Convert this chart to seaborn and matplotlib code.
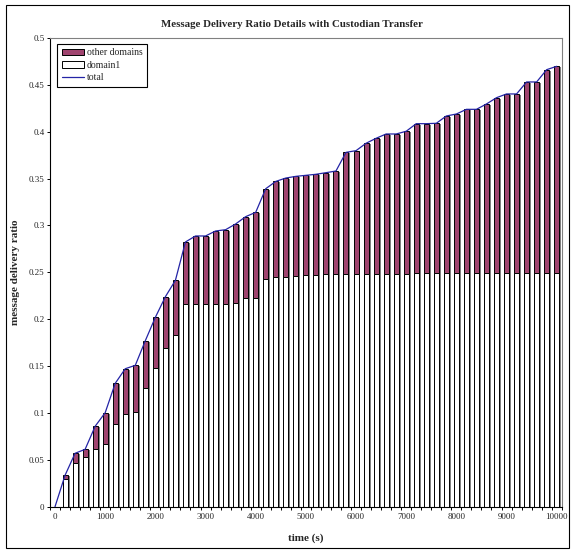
import numpy as np
import pandas as pd
import matplotlib
matplotlib.use("Agg")
import matplotlib.pyplot as plt
import matplotlib.patheffects as pe
from matplotlib.patches import Rectangle, Patch
from matplotlib.lines import Line2D
import seaborn as sns

# ---------------- data ----------------
times = [0, 200, 400, 600, 800, 1000, 1200, 1400, 1600, 1800,
         2000, 2200, 2400, 2600, 2800, 3000, 3200, 3400, 3600, 3800,
         4000, 4200, 4400, 4600, 4800, 5000, 5200, 5400, 5600, 5800,
         6000, 6200, 6400, 6600, 6800, 7000, 7200, 7400, 7600, 7800,
         8000, 8200, 8400, 8600, 8800, 9000, 9200, 9400, 9600, 9800,
         10000]

total = [0.0, 0.0335, 0.057, 0.0612, 0.0858, 0.1003, 0.1316, 0.1472, 0.1508, 0.1771,
         0.202, 0.224, 0.2415, 0.2824, 0.2888, 0.2888, 0.2941, 0.2955, 0.3016, 0.3094,
         0.314, 0.3392, 0.347, 0.3506, 0.3524, 0.3535, 0.3546, 0.3563, 0.3581, 0.378,
         0.3798, 0.3877, 0.393, 0.3976, 0.3976, 0.4005, 0.4086, 0.4086, 0.409, 0.4168,
         0.4189, 0.4239, 0.4239, 0.4296, 0.4363, 0.4403, 0.4403, 0.4531, 0.4531, 0.4662,
         0.4698]

domain1 = [0.0, 0.0292, 0.047, 0.0527, 0.0612, 0.0666, 0.0879, 0.0986, 0.1013, 0.1263,
           0.1483, 0.169, 0.1835, 0.2166, 0.2166, 0.2166, 0.2166, 0.2166, 0.2176, 0.2223,
           0.2223, 0.2426, 0.245, 0.245, 0.2464, 0.2468, 0.2468, 0.2479, 0.2479, 0.2479,
           0.2486, 0.2486, 0.2486, 0.2486, 0.2486, 0.2486, 0.249, 0.249, 0.249, 0.249,
           0.249, 0.249, 0.249, 0.249, 0.249, 0.249, 0.249, 0.249, 0.249, 0.249,
           0.249]

xtick_labels = ["0", "1000", "2000", "3000", "4000", "5000",
                "6000", "7000", "8000", "9000", "10000"]
ytick_values = [0, 0.05, 0.1, 0.15, 0.2, 0.25, 0.3, 0.35, 0.4, 0.45, 0.5]
ytick_labels = ["0", "0.05", "0.1", "0.15", "0.2", "0.25", "0.3", "0.35", "0.4", "0.45", "0.5"]

legend_labels = ["other domains", "domain1", "total"]

# ---------------- style ----------------
sns.set_theme(style="white")
plt.rcParams["font.family"] = ["Liberation Serif", "DejaVu Serif"]

PURPLE = "#a0446f"
LINE = "#2424a6"
SHADOW = "#7f7f7f"

fig = plt.figure(figsize=(5.76, 5.53), dpi=100)
ax = fig.add_axes([0.0868, 0.0837, 0.8884, 0.8476])

df = pd.DataFrame({"time": times, "total": total, "domain1": domain1})

shadow = [pe.SimplePatchShadow(offset=(1.4, -0.6), shadow_rgbFace=SHADOW, alpha=1.0),
          pe.Normal()]

# other domains (drawn as total height, overlapped by domain1)
sns.barplot(data=df, x="time", y="total", color=PURPLE, saturation=1,
            width=0.5, edgecolor="black", linewidth=0.7, ax=ax, errorbar=None)
n_first = len(ax.patches)
for p in ax.patches:
    p.set_path_effects(shadow)

sns.barplot(data=df, x="time", y="domain1", color="white", saturation=1,
            width=0.5, edgecolor="black", linewidth=0.7, ax=ax, errorbar=None)
for p in ax.patches[n_first:]:
    p.set_path_effects(shadow)

sns.lineplot(x=df.index, y=df["total"], color=LINE, linewidth=0.9, ax=ax)

# ---------------- axes ----------------
ax.set_xlim(-0.5, 50.5)
ax.set_ylim(0, 0.5)

ax.set_xticks(np.arange(0, 51, 5))
ax.set_xticklabels(xtick_labels, fontsize=6.5)
ax.set_xticks(np.arange(-0.5, 51, 1), minor=True)
ax.tick_params(axis="x", which="major", length=0, pad=4.5)
ax.tick_params(axis="x", which="minor", length=2.5, width=0.7, color="black",
               direction="out", bottom=True)

ax.set_yticks(ytick_values)
ax.set_yticklabels(ytick_labels, fontsize=6.5)
ax.tick_params(axis="y", which="major", length=2.5, width=0.7, color="black",
               direction="out", pad=1.5, left=True)

ax.set_xlabel("time (s)", fontsize=8, fontweight="bold", labelpad=9)
ax.set_ylabel("message delivery ratio", fontsize=8, fontweight="bold", labelpad=6)

for side in ["left", "bottom"]:
    ax.spines[side].set_color("black")
    ax.spines[side].set_linewidth(0.8)
for side in ["top", "right"]:
    ax.spines[side].set_color("#808080")
    ax.spines[side].set_linewidth(0.8)
ax.spines["bottom"].set_zorder(5)

# ---------------- legend ----------------
handles = [Patch(facecolor=PURPLE, edgecolor="black", linewidth=0.7),
           Patch(facecolor="white", edgecolor="black", linewidth=0.7),
           Line2D([0], [0], color=LINE, linewidth=0.9)]
leg = ax.legend(handles, legend_labels, loc="upper left",
                bbox_to_anchor=(0.013, 0.988), borderaxespad=0,
                fontsize=7, frameon=True, fancybox=False, framealpha=1,
                edgecolor="black", handlelength=2.3, handleheight=0.6,
                handletextpad=0.3, labelspacing=0.35, borderpad=0.5)
leg.get_frame().set_linewidth(0.8)

# ---------------- title & chart border ----------------
fig.text(0.506, 0.955, "Message Delivery Ratio Details with Custodian Transfer",
         ha="center", va="center", fontsize=7.8, fontweight="bold")

fig.patches.append(Rectangle((6 / 576, 1 - 548 / 553), 563 / 576, 543 / 553,
                             transform=fig.transFigure, fill=False,
                             edgecolor="black", linewidth=0.8))

fig.savefig("out.png", dpi=100)
